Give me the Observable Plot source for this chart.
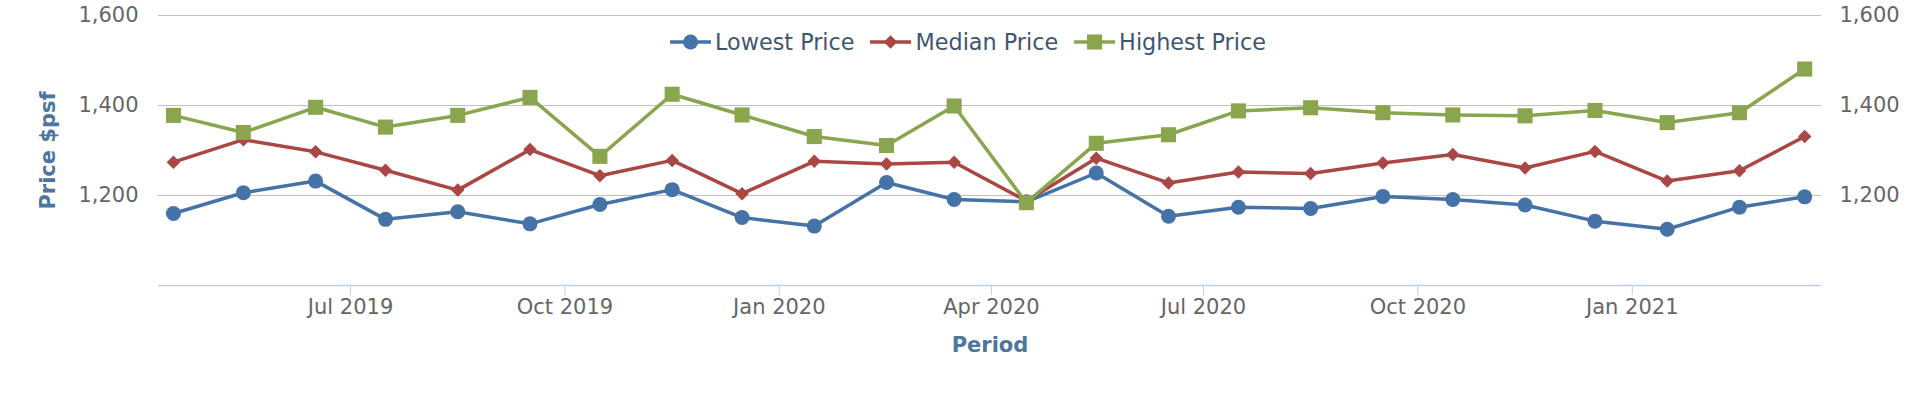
<!DOCTYPE html>
<html>
<head>
<meta charset="utf-8">
<script src="https://cdn.jsdelivr.net/npm/d3@7"></script>
<script src="https://cdn.jsdelivr.net/npm/@observablehq/plot@0.6"></script>
<style>
  html, body { margin: 0; padding: 0; background: #ffffff; }
  #chart { position: relative; width: 1920px; height: 396px; overflow: hidden; }
  #legend { position: absolute; top: 28px; left: 968px; transform: translateX(-50%);
            display: flex; align-items: center; height: 28px; white-space: nowrap;
            font-family: "DejaVu Sans", sans-serif; font-size: 22.3px; color: #3E576F; }
  .item { display: flex; align-items: center; margin-right: 16px; }
  .item:last-child { margin-right: 0; }
  .item svg { margin-right: 4px; }
</style>
</head>
<body>
<div id="chart"></div>
<script>
// ---- data ----
const periods = [
  "2019-04-16","2019-05-16","2019-06-16","2019-07-16","2019-08-16","2019-09-16",
  "2019-10-16","2019-11-16","2019-12-16","2020-01-16","2020-02-16","2020-03-16",
  "2020-04-16","2020-05-16","2020-06-16","2020-07-16","2020-08-16","2020-09-16",
  "2020-10-16","2020-11-16","2020-12-16","2021-01-16","2021-02-16","2021-03-16"
];
const lowestPrice  = [1160,1206,1232,1147,1164,1137,1180,1213,1151,1132,1229,1191,
                      1186,1250,1154,1174,1171,1198,1191,1179,1143,1125,1174,1197];
const medianPrice  = [1274,1324,1297,1256,1212,1302,1244,1278,1204,1276,1270,1274,
                      1188,1283,1228,1252,1249,1272,1291,1261,1298,1232,1255,1331];
const highestPrice = [1378,1340,1396,1352,1378,1418,1287,1425,1379,1331,1311,1399,
                      1184,1316,1335,1388,1395,1384,1379,1377,1389,1362,1384,1481];

const seriesNames   = ["Lowest Price", "Median Price", "Highest Price"];
const seriesColors  = ["#4572A7", "#AA4643", "#89A54E"];
const seriesSymbols = ["circle", "diamond2", "square"];
const seriesRadius  = [7.5, 6.1, 8.5];

const xTickDates = ["2019-07-01","2019-10-01","2020-01-01","2020-04-01",
                    "2020-07-01","2020-10-01","2021-01-01"];
const yTicks = [1200, 1400, 1600];
const xTitle = "Period";
const yTitle = "Price $psf";

// ---- table for Plot ----
const seriesValues = [lowestPrice, medianPrice, highestPrice];
const rows = [];
seriesNames.forEach((name, s) => {
  periods.forEach((p, i) => rows.push({series: name, date: new Date(p), value: seriesValues[s][i]}));
});

const seriesMarks = [];
seriesNames.forEach((name, s) => {
  const d = rows.filter(r => r.series === name);
  seriesMarks.push(Plot.line(d, {x: "date", y: "value", stroke: seriesColors[s], strokeWidth: 3.5}));
  seriesMarks.push(Plot.dot(d, {x: "date", y: "value", symbol: seriesSymbols[s], r: seriesRadius[s],
                                fill: seriesColors[s], stroke: "none"}));
});

const numFmt = d3.format(",d");

const chart = Plot.plot({
  width: 1920,
  height: 396,
  marginTop: 15,
  marginBottom: 111,
  marginLeft: 158,
  marginRight: 99,
  style: {fontFamily: "DejaVu Sans, sans-serif", fontSize: "21px", background: "#ffffff"},
  x: {type: "utc", domain: [new Date(Date.UTC(2019, 3, 9, 14)), new Date(Date.UTC(2021, 2, 23, 5))]},
  y: {domain: [1000, 1600]},
  marks: [
    Plot.gridY(yTicks, {stroke: "#C0C0C0", strokeOpacity: 1}),
    Plot.ruleY([1000], {stroke: "#C0D0E0", strokeWidth: 1.5}),
    Plot.axisX(xTickDates.map(d => new Date(d)), {
      tickSize: 10, tickPadding: 4, stroke: "#C0D0E0", fill: "#666666",
      tickFormat: d3.utcFormat("%b %Y"), label: null
    }),
    Plot.axisY(yTicks, {anchor: "left", tickSize: 0, tickPadding: 20, fill: "#666666",
                        tickFormat: numFmt, label: null}),
    Plot.axisY(yTicks, {anchor: "right", tickSize: 0, tickPadding: 18, fill: "#666666",
                        tickFormat: numFmt, label: null}),
    ...seriesMarks,
    Plot.text([xTitle], {frameAnchor: "bottom", dy: 60, fill: "#4d759e", fontWeight: "bold",
                         fontSize: 21, lineAnchor: "middle", textAnchor: "middle"}),
    Plot.text([yTitle], {frameAnchor: "left", dx: -110, rotate: -90, fill: "#4d759e",
                         fontWeight: "bold", fontSize: 21, lineAnchor: "middle", textAnchor: "middle"})
  ]
});

const container = document.getElementById("chart");
container.appendChild(chart);

// ---- legend (HTML overlay at top of plot area) ----
const legend = document.createElement("div");
legend.id = "legend";
seriesNames.forEach((name, s) => {
  const item = document.createElement("div");
  item.className = "item";
  const ns = "http://www.w3.org/2000/svg";
  const sw = document.createElementNS(ns, "svg");
  sw.setAttribute("width", 41); sw.setAttribute("height", 20);
  const ln = document.createElementNS(ns, "line");
  ln.setAttribute("x1", 0); ln.setAttribute("x2", 41); ln.setAttribute("y1", 10); ln.setAttribute("y2", 10);
  ln.setAttribute("stroke", seriesColors[s]); ln.setAttribute("stroke-width", 3.5);
  sw.appendChild(ln);
  const sym = document.createElementNS(ns, "path");
  const size = Math.PI * seriesRadius[s] * seriesRadius[s];
  const type = {circle: d3.symbolCircle, diamond2: d3.symbolDiamond2, square: d3.symbolSquare}[seriesSymbols[s]];
  sym.setAttribute("d", d3.symbol(type, size)());
  sym.setAttribute("transform", "translate(20.5,10)");
  sym.setAttribute("fill", seriesColors[s]);
  sw.appendChild(sym);
  item.appendChild(sw);
  const t = document.createElement("span");
  t.textContent = name;
  item.appendChild(t);
  legend.appendChild(item);
});
container.appendChild(legend);
</script>
</body>
</html>
